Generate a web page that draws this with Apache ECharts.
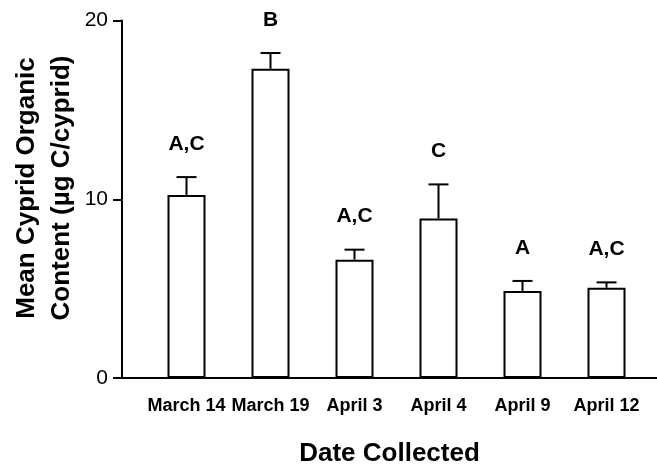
<!DOCTYPE html>
<html>
<head>
<meta charset="utf-8">
<script src="https://cdn.jsdelivr.net/npm/echarts@6/dist/echarts.min.js"></script>
<style>html,body{margin:0;padding:0;background:#fff}#c{width:657px;height:466px}</style>
</head>
<body>
<div id="c"></div>
<script>
var categories = ['March 14', 'March 19', 'April 3', 'April 4', 'April 9', 'April 12'];
var means = [10.24, 17.3, 6.62, 8.93, 4.87, 5.05];
var errors = [1.0, 0.88, 0.56, 1.9, 0.56, 0.3];
var groups = ['A,C', 'B', 'A,C', 'C', 'A', 'A,C'];
var yTicks = [0, 10, 20];
var yTitle = 'Mean Cyprid Organic\nContent (\u00b5g C/cyprid)';
var xTitle = 'Date Collected';

var FONT = '"Liberation Sans", Arial, sans-serif';
var chart = echarts.init(document.getElementById('c'), null, {renderer: 'canvas'});

var errData = categories.map(function (c, i) { return [i, means[i], means[i] + errors[i], groups[i]]; });

chart.setOption({
  animation: false,
  backgroundColor: '#fff',
  grid: [
    {left: 144.5, right: 8.5, top: 20.5, bottom: 88, containLabel: false, outerBoundsMode: 'none'},
    {left: 122, right: 0, top: 20.5, bottom: 88, containLabel: false, outerBoundsMode: 'none'}
  ],
  graphic: [{
    type: 'text', x: 44.5, y: 188, rotation: Math.PI / 2,
    style: {text: yTitle, textAlign: 'center', textVerticalAlign: 'middle', fill: '#000',
      font: 'bold 26px ' + FONT, lineHeight: 35}
  }],
  xAxis: [
    {
      type: 'category', gridIndex: 0, data: categories,
      axisLine: {show: false}, axisTick: {show: false},
      axisLabel: {interval: 0, color: '#000', fontFamily: FONT, fontWeight: 'bold', fontSize: 18, margin: 19}
    },
    {
      type: 'value', gridIndex: 1, min: 0, max: 1,
      axisLine: {show: true, lineStyle: {color: '#000', width: 2}},
      axisTick: {show: false}, axisLabel: {show: false}, splitLine: {show: false},
      name: xTitle, nameLocation: 'middle', nameGap: 63, nameMoveOverlap: false,
      nameTextStyle: {color: '#000', fontFamily: FONT, fontWeight: 'bold', fontSize: 26}
    }
  ],
  yAxis: [
    {
      type: 'value', gridIndex: 0, min: yTicks[0], max: yTicks[yTicks.length - 1], interval: 10,
      offset: 22.5,
      axisLine: {show: true, lineStyle: {color: '#000', width: 2}},
      axisTick: {show: true, length: 9, lineStyle: {color: '#000', width: 2}},
      axisLabel: {color: '#000', fontFamily: FONT, fontSize: 21, margin: 14},
      splitLine: {show: false}
    },
    {type: 'value', gridIndex: 1, min: 0, max: 1, show: false}
  ],
  series: [
    {
      type: 'bar', xAxisIndex: 0, yAxisIndex: 0, data: means, barWidth: 38,
      itemStyle: {color: '#fff', borderColor: '#000', borderWidth: 2}
    },
    {
      type: 'custom', xAxisIndex: 0, yAxisIndex: 0, data: errData, z: 5,
      renderItem: function (params, api) {
        var x = api.value(0);
        var lo = api.coord([x, api.value(1)]);
        var hi = api.coord([x, api.value(2)]);
        var cap = 10;
        return {
          type: 'group',
          children: [
            {type: 'line', shape: {x1: lo[0], y1: lo[1], x2: hi[0], y2: hi[1]}, style: {stroke: '#000', lineWidth: 2}},
            {type: 'line', shape: {x1: hi[0] - cap, y1: hi[1], x2: hi[0] + cap, y2: hi[1]}, style: {stroke: '#000', lineWidth: 2}},
            {type: 'text', style: {x: hi[0], y: hi[1] - 33, text: api.value(3), textAlign: 'center', textVerticalAlign: 'middle',
              fill: '#000', font: 'bold 21px ' + FONT}}
          ]
        };
      }
    }
  ]
});
</script>
</body>
</html>
